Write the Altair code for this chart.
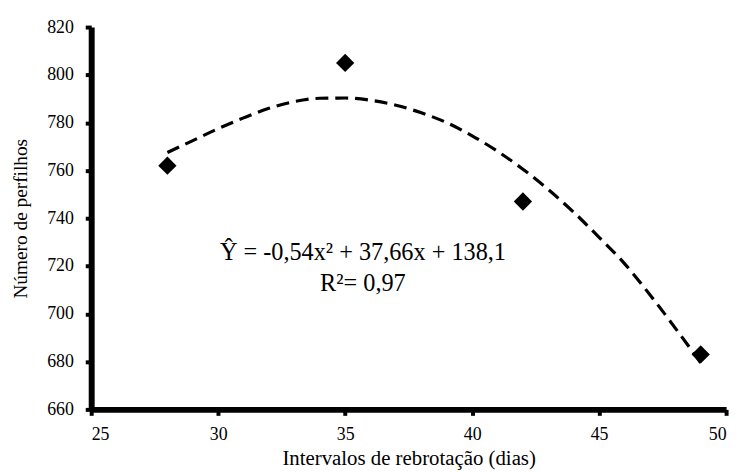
import altair as alt
import pandas as pd

# observed points
obs_x = [28, 35, 42, 49]
obs_y = [762, 805, 747, 683]

# fitted dashed curve
fit_x = [28, 29, 30, 31, 32, 33, 34, 35, 36, 37, 38, 39, 40, 41, 42, 43, 44, 45, 46, 47, 48, 49]
fit_y = [767.5, 772.5, 777.5, 782, 786, 788.8, 790.2, 790.3, 789.4, 787.3, 784.1, 780,
         774.5, 768, 760.5, 752, 742.5, 732, 721, 708, 694, 679.5]

x_ticks = [25, 30, 35, 40, 45, 50]
y_ticks = [660, 680, 700, 720, 740, 760, 780, 800, 820]

eq_lines = ["Ŷ = -0,54x² + 37,66x + 138,1", "R²= 0,97"]
eq_x = [35.7, 35.7]
eq_y = [725.5, 712.5]

FONT = "Liberation Serif, Times New Roman, serif"

obs = pd.DataFrame({"x": obs_x, "y": obs_y})
fit = pd.DataFrame({"x": fit_x, "y": fit_y})
ann = pd.DataFrame({"x": eq_x, "y": eq_y, "t": eq_lines})

xs = alt.Scale(domain=[25, 50], nice=False, zero=False)
ys = alt.Scale(domain=[660, 820], nice=False, zero=False)

common = dict(grid=False, domainColor="#000000", domainWidth=6, domainOpacity=1,
              tickColor="#000000", tickWidth=4, tickSize=6, tickOpacity=1,
              labelFont=FONT, labelColor="black",
              titleFont=FONT, titleColor="black", titleFontWeight="normal")

xax = alt.Axis(values=x_ticks, title="Intervalos de rebrotação (dias)",
               labelFontSize=18, labelPadding=10, titleFontSize=21, titlePadding=5, **common)
yax = alt.Axis(values=y_ticks, title="Número de perfilhos",
               labelFontSize=18, labelPadding=12, titleFontSize=19.5, titlePadding=16, **common)

X = alt.X("x:Q", scale=xs, axis=xax)
Y = alt.Y("y:Q", scale=ys, axis=yax)

line = alt.Chart(fit).mark_line(color="black", strokeWidth=3.2, strokeDash=[13, 7],
                                interpolate="monotone").encode(x=X, y=Y)

pts = alt.Chart(obs).mark_point(shape="diamond", filled=True, color="black", size=340,
                                opacity=1).encode(x=X, y=Y)

txt = alt.Chart(ann).mark_text(font=FONT, fontSize=24.5, color="black", align="center",
                               baseline="middle").encode(x=X, y=Y, text="t:N")

chart = alt.layer(line, pts, txt).properties(
    width=641, height=386,
    autosize=alt.AutoSizeParams(type="none"),
    padding={"left": 84, "top": 17, "right": 10, "bottom": 64},
).configure(
    background="white", font=FONT
).configure_view(stroke=None)

chart.save("out.html", embed_options={"renderer": "svg", "actions": False})
